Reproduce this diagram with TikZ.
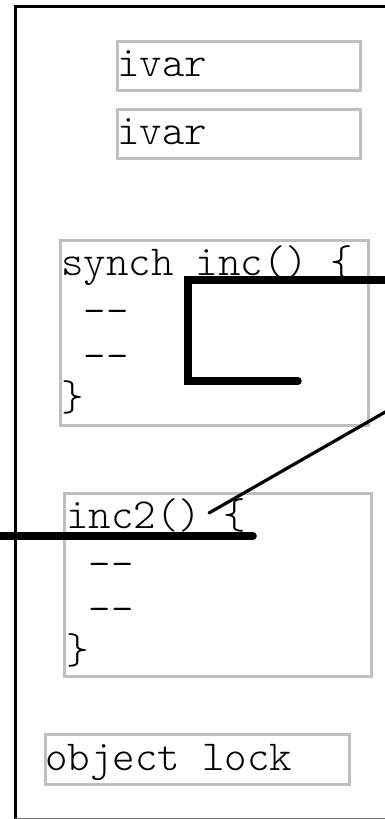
\documentclass[tikz,border=0pt]{standalone}
\begin{document}
\begin{tikzpicture}[x=1pt,y=-1pt,
  box/.style={draw=black!25, line width=3pt, inner sep=0pt, anchor=north west},
  txt/.style={font=\ttfamily\fontseries{l}\fontsize{42.8}{45}\selectfont, inner sep=0pt, anchor=base west, align=left},
  thick line/.style={line width=7.5pt, line cap=round, line join=miter},
  thin line/.style={line width=3.2pt, line cap=round}]
\useasboundingbox (0,0) rectangle (385,819);
% frame
\draw[line width=3pt, black] (15,6) -- (395,6);
\draw[line width=3pt, black] (15,4.5) -- (15,819);
\draw[line width=1.5pt, black!55] (15,818.5) -- (395,818.5);
% boxes
\node[box, minimum width=243pt, minimum height=49pt] (iv1) at (116,40) {};
\node[box, minimum width=243pt, minimum height=49pt] (iv2) at (116,108) {};
\node[box, minimum width=308pt, minimum height=185pt] (inc) at (59,239) {};
\node[box, minimum width=307pt, minimum height=183pt] (inc2) at (63,492) {};
\node[box, minimum width=304pt, minimum height=50pt] (lock) at (44,733) {};
% texts
\node[txt] (t1) at (117,76) {ivar};
\node[txt] (t2) at (117,144) {ivar};
\node[txt] (t3) at (61,275) {synch inc() \{};
\node[txt] (t3a) at (83.5,324) {--};
\node[txt] (t3b) at (83.5,369) {--};
\node[txt] (t3c) at (61,410) {\}};
\node[txt] (t4) at (66,528) {inc2() \{};
\node[txt] (t4a) at (88.5,577) {--};
\node[txt] (t4b) at (88.5,622) {--};
\node[txt] (t4c) at (66,663) {\}};
\node[txt] (t5) at (45,770) {object lock};
% thread lines
\coordinate (a0) at (392,280);
\coordinate (a1) at (188,280);
\coordinate (a2) at (188,381);
\coordinate (a3) at (298,381);
\draw[thick line] (a0) -- (a1) -- (a2) -- (a3);
\coordinate (b0) at (-5,536);
\coordinate (b1) at (253,536);
\draw[thick line] (b0) -- (b1);
\coordinate (c0) at (394,407);
\coordinate (c1) at (209,513);
\draw[thin line] (c0) -- (c1);
\end{tikzpicture}
\end{document}
